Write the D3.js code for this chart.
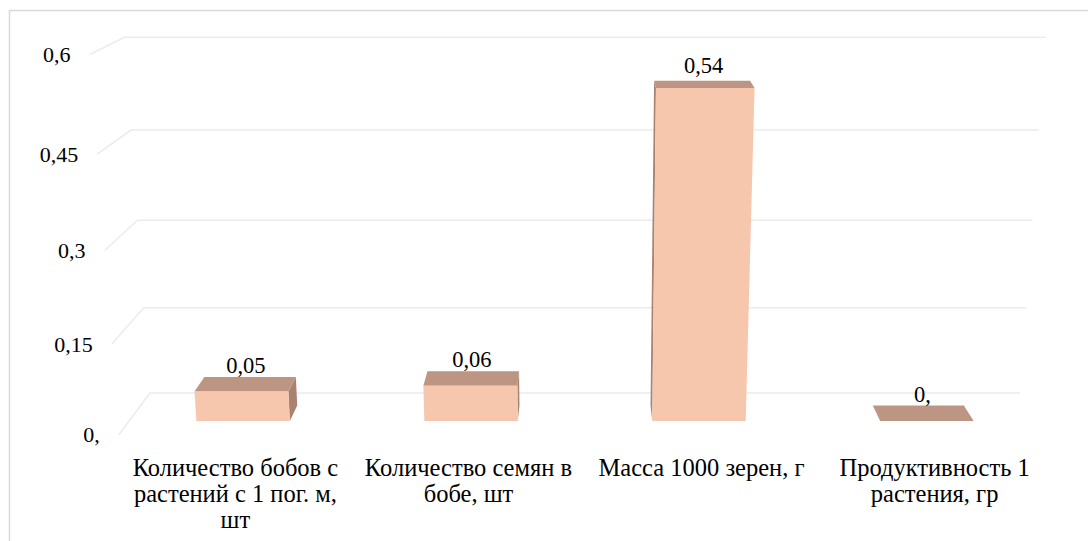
<!DOCTYPE html>
<html>
<head>
<meta charset="utf-8">
<script src="https://cdn.jsdelivr.net/npm/d3@7"></script>
<style>
body { margin: 0; background: #fff; }
</style>
</head>
<body>
<div id="chart"></div>
<script>
// chart data
var categories = ["Количество бобов с\nрастений с 1 пог. м,\nшт", "Количество семян в\nбобе, шт", "Масса 1000 зерен, г", "Продуктивность 1\nрастения, гр"];
var values = [0.05, 0.06, 0.54, 0];
var valueLabels = ["0,05", "0,06", "0,54", "0,"];
var tickValues = [0, 0.15, 0.3, 0.45, 0.6];
var tickLabels = ["0,", "0,15", "0,3", "0,45", "0,6"];

var width = 1088, height = 541;
var font = "'Liberation Serif', 'DejaVu Serif', serif";

// simple pinhole camera, pitched down a little
var cam = { f: 1662.5, phi: 15 * Math.PI / 180, u0: 585, v0: 255.4, yb: -0.0828 };
var wallHalf = 0.2617, wallH = 0.214, depth = 0.069;

/**
 * project a 3d point to the screen
 * X: across, Y: up, Z: 0 front .. depth back
 */
function project(X, Y, Z) {
	var s = depth - Z;
	var yc = cam.yb + Y * Math.cos(cam.phi) - s * Math.sin(cam.phi);
	var zc = 1 - Y * Math.sin(cam.phi) - s * Math.cos(cam.phi);
	return [cam.u0 + cam.f * X / zc, cam.v0 - cam.f * yc / zc];
}

var x = d3.scaleBand().domain(categories).range([-wallHalf, wallHalf])
	.paddingInner(0.59).paddingOuter(0.295);
var xc = d3.scaleBand().domain(categories).range([-wallHalf, wallHalf]);
var y = d3.scaleLinear().domain([0, 0.6]).range([0, wallH]);
var z0 = depth * 0.316, z1 = depth * 0.684;

var svg = d3.select("#chart").append("svg")
	.attr("width", width).attr("height", height)
	.style("font-family", font);

// outer frame
svg.append("rect")
	.attr("x", 9.5).attr("y", 10.5)
	.attr("width", 1200).attr("height", 700)
	.style("fill", "none").style("stroke", "#d9d9d9").style("stroke-width", 1.5);

var line = d3.line();

// gridlines on side wall + back wall
svg.append("g").selectAll("path").data(tickValues).enter().append("path")
	.attr("d", function(t){
		return line([project(-wallHalf, y(t), 0), project(-wallHalf, y(t), depth), project(wallHalf, y(t), depth)]);
	})
	.style("fill", "none").style("stroke", "#ebebeb").style("stroke-width", 1.5);

// tick labels
svg.append("g").selectAll("text").data(tickValues).enter().append("text")
	.attr("x", function(t){ return project(-wallHalf, y(t), 0)[0] - 19; })
	.attr("y", function(t){ return project(-wallHalf, y(t), 0)[1]; })
	.attr("dy", "0.35em")
	.attr("text-anchor", "end")
	.style("font-size", "22px")
	.text(function(t, i){ return tickLabels[i]; });

// bars
var bars = svg.append("g").selectAll("g").data(values).enter().append("g");

bars.each(function(v, i){
	var g = d3.select(this);
	var xa = x(categories[i]), xb = xa + x.bandwidth();
	var h = y(v);
	var mid = (xa + xb) / 2;
	var poly = function(pts){ return line(pts) + "Z"; };
	// side face that faces the camera
	if (h > 0) {
		var sx = project(mid, 0, 0)[0] < cam.u0 ? xb : xa;
		g.append("path")
			.attr("d", poly([project(sx, 0, z0), project(sx, h, z0), project(sx, h, z1), project(sx, 0, z1)]))
			.style("fill", "#a88371");
	}
	// top
	g.append("path")
		.attr("d", poly([project(xa, h, z0), project(xb, h, z0), project(xb, h, z1), project(xa, h, z1)]))
		.style("fill", "#bc9583");
	// front
	if (h > 0) {
		g.append("path")
			.attr("d", poly([project(xa, 0, z0), project(xb, 0, z0), project(xb, h, z0), project(xa, h, z0)]))
			.style("fill", "#f6c7ac");
	}
});

// value labels
svg.append("g").selectAll("text").data(values).enter().append("text")
	.attr("x", function(v, i){ return project(x(categories[i]) + x.bandwidth() / 2, y(v), depth / 2)[0]; })
	.attr("y", function(v, i){ return project(x(categories[i]) + x.bandwidth() / 2, y(v), depth / 2)[1] - 11; })
	.attr("text-anchor", "middle")
	.style("font-size", "22.5px")
	.text(function(v, i){ return valueLabels[i]; });

// category labels
var cat = svg.append("g").selectAll("text").data(categories).enter().append("text")
	.attr("text-anchor", "middle")
	.style("font-size", "24.5px")
	.attr("transform", function(c){
		var p = project(xc(c) + xc.bandwidth() / 2, 0, 0);
		return "translate(" + p[0] + "," + (p[1] + 41) + ")";
	});
cat.selectAll("tspan").data(function(c){ return c.split("\n"); }).enter().append("tspan")
	.attr("x", 0)
	.attr("y", function(d, j){ return j * 26; })
	.text(function(d){ return d; });
</script>
</body>
</html>
